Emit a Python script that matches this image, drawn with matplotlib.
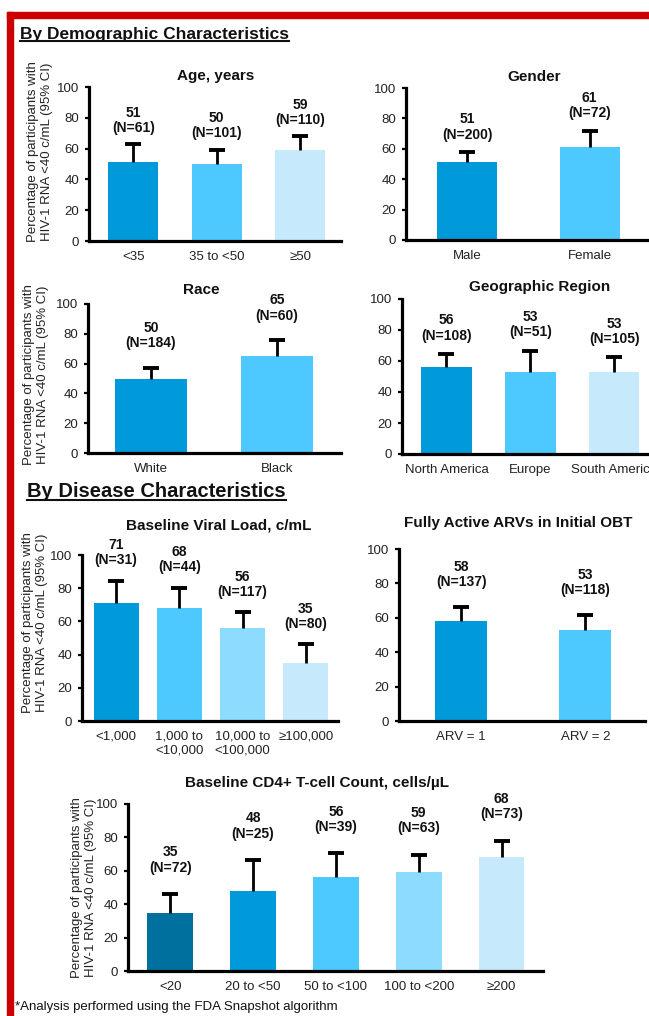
import matplotlib
matplotlib.use('Agg')
import matplotlib.pyplot as plt
from matplotlib.lines import Line2D
from matplotlib.patches import Rectangle

plt.rcParams['font.family'] = ['Liberation Sans', 'DejaVu Sans']

W, H = 649, 1016

# colours used in the slide
navy = '#00709F'
dark = '#0099DA'
mid = '#4DC9FF'
light = '#8DDBFF'
pale = '#C6EAFC'

# data (percent with HIV-1 RNA <40 c/mL, upper 95% CI, N)
age_cats = ['<35', '35 to <50', '\u226550']
age_vals = [51, 50, 59]
age_upper = [62.7, 59.3, 67.9]
age_n = [61, 101, 110]

gender_cats = ['Male', 'Female']
gender_vals = [51, 61]
gender_upper = [57.8, 71.9]
gender_n = [200, 72]

race_cats = ['White', 'Black']
race_vals = [50, 65]
race_upper = [57.2, 75.8]
race_n = [184, 60]

region_cats = ['North America', 'Europe', 'South America']
region_vals = [56, 53, 53]
region_upper = [64.5, 66.7, 62.4]
region_n = [108, 51, 105]

vl_cats = ['<1,000', '1,000 to\n<10,000', '10,000 to\n<100,000', '\u2265100,000']
vl_vals = [71, 68, 56, 35]
vl_upper = [84.5, 80.3, 65.4, 46.1]
vl_n = [31, 44, 117, 80]

arv_cats = ['ARV = 1', 'ARV = 2']
arv_vals = [58, 53]
arv_upper = [66.0, 61.4]
arv_n = [137, 118]

cd4_cats = ['<20', '20 to <50', '50 to <100', '100 to <200', '\u2265200']
cd4_vals = [35, 48, 56, 59, 68]
cd4_upper = [46.1, 66.5, 70.5, 69.7, 78.0]
cd4_n = [72, 25, 39, 63, 73]

ylab = 'Percentage of participants with\nHIV-1 RNA <40 c/mL (95% CI)'

fig = plt.figure(figsize=(W / 100, H / 100), dpi=100)


def px_axes(x0, x1, ytop, ybot):
    return fig.add_axes([x0 / W, 1 - ybot / H, (x1 - x0) / W, (ybot - ytop) / H])


def panel(rect, cats, vals, upper, ns, colors, title, title_xy, xlim, width, pad):
    ax = px_axes(*rect)
    xs = list(range(len(cats)))
    ax.bar(xs, vals, width=width, color=colors, zorder=2)
    # upper half of the CI only, with a cap on top
    ax.vlines(xs, vals, upper, color='black', lw=2.0, zorder=3)
    ax.plot(xs, upper, ls='none', marker='_', ms=12, mew=2.8, color='black', zorder=3)
    for x, u, v, n in zip(xs, upper, vals, ns):
        ax.annotate('%d\n(N=%d)' % (v, n), (x, u), xytext=(0, pad + 7),
                    textcoords='offset pixels', ha='center', va='center',
                    fontsize=10, fontweight='bold', linespacing=1.12, color='#111111',
                    annotation_clip=False)
    ax.set_ylim(0, 100)
    ax.set_xlim(*xlim)
    ax.set_yticks([0, 20, 40, 60, 80, 100])
    ax.set_xticks(xs)
    ax.set_xticklabels(cats)
    for s in ['top', 'right']:
        ax.spines[s].set_visible(False)
    for s in ['left', 'bottom']:
        ax.spines[s].set_linewidth(2.3)
    ax.tick_params(axis='x', length=0, pad=7, labelsize=9.5, colors='#222222')
    ax.tick_params(axis='y', length=3, width=1.6, pad=4, labelsize=9.5, colors='#222222')
    ax.tick_params(axis='y', color='black')
    ax.text(title_xy[0], title_xy[1], title, transform=ax.transAxes, ha='center',
            va='center', fontsize=11, fontweight='bold', color='#111111')
    return ax


panel((89, 341, 87, 241), age_cats, age_vals, age_upper, age_n, [dark, mid, pale],
      'Age, years', (0.504, 1.071), (-0.53, 2.49), 0.6, 17)
panel((406, 652, 88, 240), gender_cats, gender_vals, gender_upper, gender_n, [dark, mid],
      'Gender', (0.52, 1.072), (-0.5, 1.51), 0.49, 18)
panel((88, 341, 304, 453), race_cats, race_vals, race_upper, race_n, [dark, mid],
      'Race', (0.447, 1.094), (-0.5, 1.51), 0.57, 25)
panel((402, 652, 299, 454), region_cats, region_vals, region_upper, region_n,
      [dark, mid, pale], 'Geographic Region', (0.55, 1.077), (-0.53, 2.45), 0.6, 19)
panel((82, 338, 555, 721), vl_cats, vl_vals, vl_upper, vl_n, [dark, mid, light, pale],
      'Baseline Viral Load, c/mL', (0.535, 1.175), (-0.54, 3.51), 0.71, 21)
panel((399, 645, 549, 721), arv_cats, arv_vals, arv_upper, arv_n, [dark, mid],
      'Fully Active ARVs in Initial OBT', (0.484, 1.151), (-0.5, 1.48), 0.42, 26)
panel((128, 543, 804, 971), cd4_cats, cd4_vals, cd4_upper, cd4_n,
      [navy, dark, mid, light, pale], 'Baseline CD4+ T-cell Count, cells/\u00b5L',
      (0.455, 1.126), (-0.51, 4.5), 0.55, 27)

# y axis labels
for cx, cy in [(40, 152), (36, 375), (35, 623), (84, 888)]:
    fig.text(cx / W, 1 - cy / H, ylab, rotation=90, ha='center', va='center',
             fontsize=9.5, color='#222222', linespacing=1.15)

# section headings (underlined)
heads = []
heads.append(fig.text(20 / W, 1 - 39 / H, 'By Demographic Characteristics', fontsize=12.5,
                      fontweight='bold', color='#111111', va='baseline'))
heads.append(fig.text(27 / W, 1 - 497 / H, 'By Disease Characteristics', fontsize=14.5,
                      fontweight='bold', color='#111111', va='baseline'))

fig.text(15 / W, 1 - 1007 / H, '*Analysis performed using the FDA Snapshot algorithm',
         fontsize=9.5, color='#111111', va='center')

# red frame
fig.add_artist(Rectangle((7 / W, 0), 6 / W, 1 - 12 / H, transform=fig.transFigure,
                         color='#CC0000', zorder=5))
fig.add_artist(Rectangle((7 / W, 1 - 18 / H), 1 - 7 / W, 6 / H, transform=fig.transFigure,
                         color='#CC0000', zorder=5))

fig.canvas.draw()
r = fig.canvas.get_renderer()
for t in heads:
    bb = t.get_window_extent(renderer=r)
    yline = bb.y0 + 1
    fig.add_artist(Line2D([bb.x0 / W, bb.x1 / W], [yline / H, yline / H],
                          transform=fig.transFigure, color='#111111', lw=1.5))

fig.savefig('out.png', dpi=100)
